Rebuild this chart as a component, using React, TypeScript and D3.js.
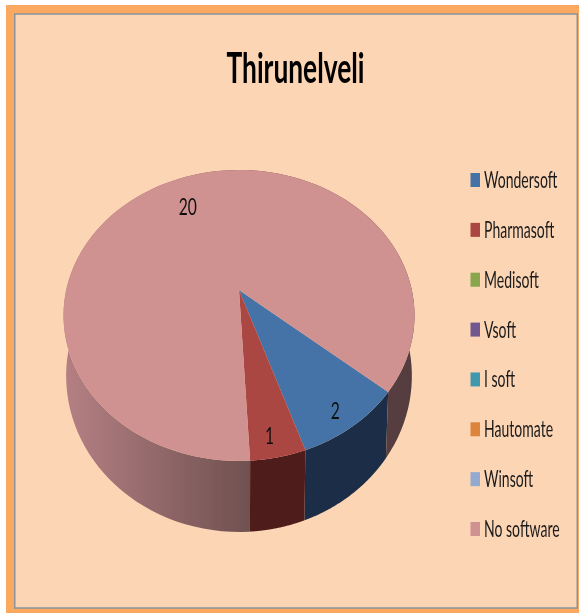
import React from "react";
import * as d3 from "d3";

const softwareNames = ["Wondersoft", "Pharmasoft", "Medisoft", "Vsoft", "I soft", "Hautomate", "Winsoft", "No software"];
const softwareCounts = [2, 1, 0, 0, 0, 0, 0, 20];
const topColors = ["#4573a7", "#aa4643", "#89a54e", "#71588f", "#4198af", "#db843d", "#93a9cf", "#d09191"];
const wallColors = ["#1b2f47", "#4f1f1e", "#3d4a22", "#32263f", "#1c424d", "#5f391a", "#414a5b", "url(#pinkWall)"];
const chartTitle = "Thirunelveli";

const W = 579, H = 613;
const apexX = 239, apexY = 290;
const persp = 0.175, B = 141, A = 172.8, D = 58.6, shrink = 0.985;
const rad = Math.PI / 180;

function top(a: number, r = 1): [number, number] {
  const X = r * Math.sin(a), Y = -r * Math.cos(a);
  const s = 1 - persp * Y;
  return [apexX + (A * X) / s, apexY + (B * Y) / s];
}
function bottom(a: number): [number, number] {
  const Y = -Math.cos(a);
  const [x, y] = top(a);
  return [apexX + (x - apexX) * shrink, y + D / (1 - persp * Y)];
}

export default function App() {
  const pie = d3.pie<number>().sort(null).startAngle(130 * rad).endAngle(490 * rad);
  const arcs = pie(softwareCounts);
  const line = d3.line();
  const samples = (s: number, e: number) => d3.range(0, 121).map((i) => s + ((e - s) * i) / 120);
  const visible = arcs.map((d, i) => ({ d, i })).filter((o) => o.d.value > 0);
  const half = d3.sum(softwareCounts) / 2;
  const legendY = d3.scalePoint<string>().domain(softwareNames).range([180, 529]);

  return (
    <svg width={W} height={H} style={{ position: "absolute", left: 0, top: 0 }}>
      <defs>
        <linearGradient id="pinkWall" gradientUnits="userSpaceOnUse" x1={63} x2={414} y1={0} y2={0}>
          <stop offset="0" stopColor="#b58084" />
          <stop offset="0.53" stopColor="#705150" />
          <stop offset="0.9" stopColor="#563e40" />
          <stop offset="1" stopColor="#533c3e" />
        </linearGradient>
        <filter id="soft" x="-5%" y="-5%" width="110%" height="110%">
          <feGaussianBlur stdDeviation="0.45" />
        </filter>
      </defs>
      <rect width={W} height={H} fill="#ffffff" />
      <rect x={6} y={5} width={W - 6} height={H - 5} fill="#fba961" />
      <rect x={14.75} y={14} width={562.5} height={594} fill="#fcd5b5" stroke="#87949c" strokeWidth={1.5} />
      <text
        x={295.5}
        y={83}
        textAnchor="middle"
        fontFamily="Lato, sans-serif"
        fontWeight={700}
        fontSize={42}
        textLength={138}
        lengthAdjust="spacingAndGlyphs"
        fill="#000"
        filter="url(#soft)"
      >
        {chartTitle}
      </text>
      <g filter="url(#soft)">
        {visible.map(({ d, i }) => {
          const pts = samples(d.startAngle, d.endAngle);
          return (
            <path
              key={"wall" + i}
              d={line([...pts.map((a) => top(a)), ...pts.slice().reverse().map((a) => bottom(a))])! + "Z"}
              fill={wallColors[i]}
            />
          );
        })}
        {visible.map(({ d, i }) => (
          <path
            key={"top" + i}
            d={line([[apexX, apexY], ...samples(d.startAngle, d.endAngle).map((a) => top(a))])! + "Z"}
            fill={topColors[i]}
          />
        ))}
        {visible.map(({ d, i }) => {
          const major = d.value > half;
          const [x, y] = top((d.startAngle + d.endAngle) / 2 + (major ? 0 : 0.02), major ? 0.74 : 0.885);
          return (
            <text
              key={"label" + i}
              transform={`translate(${x},${y}) scale(0.68,1)`}
              textAnchor="middle"
              dominantBaseline="central"
              fontFamily="Lato, sans-serif"
              fontSize={23}
              fill="#111"
            >
              {d.value}
            </text>
          );
        })}
      </g>
      <g filter="url(#soft)">
        {softwareNames.map((name, i) => {
          const y = legendY(name)!;
          return (
            <g key={name}>
              <rect x={470.5} y={y - 7} width={9.5} height={14} fill={topColors[i]} />
              <text
                transform={`translate(484,${y + 8}) scale(0.61,1)`}
                fontFamily="Lato, sans-serif"
                fontSize={23}
                fill="#1a1a1a"
              >
                {name}
              </text>
            </g>
          );
        })}
      </g>
    </svg>
  );
}
